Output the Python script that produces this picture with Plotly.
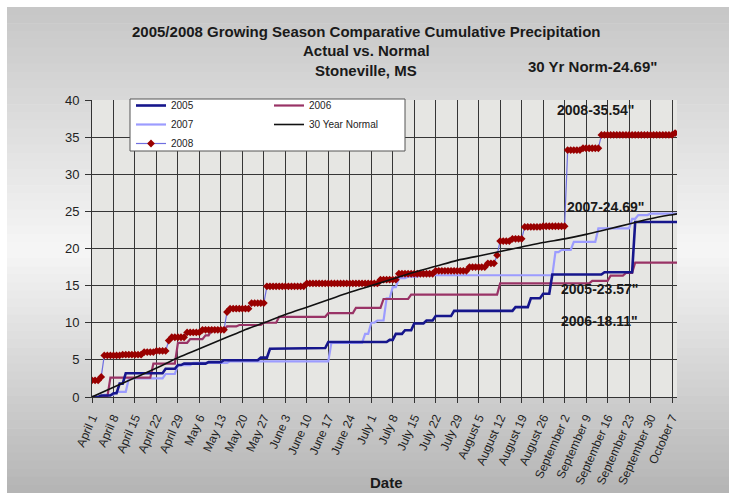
import pandas as pd
import plotly.graph_objects as go

# ---------------- data ----------------
season_start = "2008-04-01"
season_end = "2008-10-09"

# daily rain events (MM-DD, inches) – cumulative sums reproduce the curves
rain_2005_dates = ["04-04", "04-08", "04-10", "04-12", "04-25", "04-29", "05-01", "05-09",
                   "05-14", "05-26", "05-29", "06-03", "06-17", "07-07", "07-09", "07-12",
                   "07-15", "07-19", "07-22", "07-28", "08-17", "08-22", "08-26", "08-29",
                   "09-15", "09-25"]
rain_2005_inches = [0.2, 0.3, 1.3, 1.4, 0.6, 0.5, 0.2, 0.2,
                    0.25, 0.35, 1.2, 0.1, 0.8, 0.3, 0.8, 0.5,
                    0.9, 0.4, 0.6, 0.7, 0.5, 1.2, 0.6, 2.6,
                    0.3, 6.77]

rain_2006_dates = ["04-07", "04-21", "04-29", "05-03", "05-08", "05-10", "05-15", "05-19",
                   "05-27", "06-01", "06-17", "06-26", "07-05", "07-14", "08-12", "09-11",
                   "09-17", "09-22", "09-25"]
rain_2006_inches = [2.6, 1.9, 2.8, 0.5, 0.5, 0.7, 0.5, 0.2,
                    0.3, 0.8, 0.5, 0.7, 1.2, 0.6, 1.5, 0.35,
                    0.7, 0.35, 1.41]

rain_2007_dates = ["04-05", "04-09", "04-13", "04-25", "04-29", "05-04", "05-16", "06-18",
                   "06-29", "07-01", "07-03", "07-06", "07-08", "07-10", "07-13", "07-17",
                   "08-30", "09-01", "09-05", "09-13", "09-24", "09-26", "09-30"]
rain_2007_inches = [0.3, 0.4, 1.8, 0.6, 1.2, 0.3, 0.2, 2.5,
                    1.2, 1.5, 0.3, 3.0, 1.5, 1.2, 0.2, 0.2,
                    3.1, 0.3, 1.1, 1.8, 1.3, 0.5, 0.19]

rain_2008_dates = ["04-01", "04-04", "04-05", "04-11", "04-18", "04-22", "04-26", "04-27",
                   "05-02", "05-07", "05-15", "05-16", "05-23", "05-28", "06-10", "07-04",
                   "07-10", "07-22", "08-02", "08-08", "08-11", "08-12", "08-16", "08-20",
                   "08-26", "09-03", "09-08", "09-14", "10-08"]
rain_2008_inches = [2.25, 0.45, 2.9, 0.1, 0.35, 0.15, 1.4, 0.45,
                    0.65, 0.35, 2.4, 0.45, 0.75, 2.25, 0.4, 0.5,
                    0.8, 0.4, 0.5, 0.5, 1.1, 1.9, 0.3, 1.6,
                    0.1, 10.25, 0.25, 1.8, 0.24]

normal_dates = ["04-01", "04-08", "04-15", "04-22", "04-29", "05-06", "05-13", "05-20",
                "05-27", "06-03", "06-10", "06-17", "06-24", "07-01", "07-08", "07-15",
                "07-22", "07-29", "08-05", "08-12", "08-19", "08-26", "09-02", "09-09",
                "09-16", "09-23", "09-30", "10-07", "10-09"]
normal_cum = [0.0, 1.3, 2.6, 3.9, 5.3, 6.5, 7.7, 8.9,
              10.0, 11.1, 12.1, 13.1, 14.1, 15.0, 15.9, 16.8,
              17.6, 18.4, 19.0, 19.6, 20.2, 20.8, 21.3, 21.9,
              22.6, 23.3, 24.0, 24.55, 24.69]

tick_labels = ["April 1", "April 8", "April 15", "April 22", "April 29", "May 6", "May 13",
               "May 20", "May 27", "June 3", "June 10", "June 17", "June 24", "July 1",
               "July 8", "July 15", "July 22", "July 29", "August 5", "August 12",
               "August 19", "August 26", "September 2", "September 9", "September 16",
               "September 23", "September 30", "October 7"]

# ---------------- build cumulative series ----------------
days = pd.date_range(season_start, season_end, freq="D")


def cumulative(dates, inches):
    s = pd.Series(0.0, index=days)
    for d, v in zip(dates, inches):
        s[pd.Timestamp("2008-" + d)] += v
    return s.cumsum().round(3)


c2005 = cumulative(rain_2005_dates, rain_2005_inches)
c2006 = cumulative(rain_2006_dates, rain_2006_inches)
c2007 = cumulative(rain_2007_dates, rain_2007_inches)
c2008 = cumulative(rain_2008_dates, rain_2008_inches)
normal_x = [pd.Timestamp("2008-" + d) for d in normal_dates]
tick_vals = pd.date_range(season_start, periods=len(tick_labels), freq="7D")

# ---------------- layout geometry (pixels) ----------------
W, H = 729, 493
L, R, T, B = 92, 52, 100, 96
PW, PH = W - L - R, H - T - B


def px(x):
    return (x - L) / PW


def py(y):
    return (H - B - y) / PH


FONT = "Liberation Sans, Arial, sans-serif"

fig = go.Figure()

fig.add_trace(go.Scatter(x=days, y=c2007, mode="lines", name="2007", legend="legend",
                         legendrank=2, line=dict(color="#9c9cff", width=2.2)))
fig.add_trace(go.Scatter(x=days, y=c2006, mode="lines", name="2006", legend="legend2",
                         legendrank=1, line=dict(color="#993366", width=2.2)))
fig.add_trace(go.Scatter(x=days, y=c2008, mode="lines+markers", name="2008", legend="legend",
                         legendrank=3,
                         line=dict(color="#6f6fe0", width=1.2),
                         marker=dict(symbol="diamond", size=6, color="#990000",
                                     line=dict(width=0))))
fig.add_trace(go.Scatter(x=days, y=c2005, mode="lines", name="2005", legend="legend",
                         legendrank=1, line=dict(color="#16168c", width=2.6)))
fig.add_trace(go.Scatter(x=normal_x, y=normal_cum, mode="lines", name="30 Year Normal",
                         legend="legend2", legendrank=2,
                         line=dict(color="#111111", width=1.6, shape="spline")))

# ---------------- background gradient ----------------
shapes = []
stops = [(0.0, 198), (0.5, 246), (1.0, 180)]
n = 60
top_px, left_px = 7, 7
for i in range(n):
    f = (i + 0.5) / n
    for (a, ca), (b, cb) in zip(stops[:-1], stops[1:]):
        if a <= f <= b:
            g = int(round(ca + (cb - ca) * (f - a) / (b - a)))
    y0 = top_px + (H - top_px) * i / n
    y1 = top_px + (H - top_px) * (i + 1) / n + 0.6
    shapes.append(dict(type="rect", xref="paper", yref="paper", layer="below",
                       x0=px(left_px), x1=px(W + 1), y0=py(y1), y1=py(y0),
                       line=dict(width=0), fillcolor=f"rgb({g},{g},{g})"))
shapes.append(dict(type="rect", xref="paper", yref="paper", layer="below",
                   x0=0, x1=1, y0=0, y1=1, line=dict(width=0), fillcolor="#e6e6e3"))
# legend frame (white box holding both legend columns)
shapes.append(dict(type="rect", xref="paper", yref="paper", layer="above",
                   x0=px(130), x1=px(405), y0=py(151), y1=py(99),
                   line=dict(width=1, color="#555555"), fillcolor="white"))

# ---------------- annotations ----------------
ann = []


def add_text(text, x, y, size=13):
    ann.append(dict(text=f"<b>{text}</b>", x=px(x), y=py(y), xref="paper", yref="paper",
                    showarrow=False, xanchor="center", yanchor="middle",
                    font=dict(family=FONT, size=size, color="#1a1a1a")))


add_text("2005/2008 Growing Season Comparative Cumulative Precipitation", 366, 32, 15)
add_text("Actual vs. Normal", 366, 51, 15)
add_text("Stoneville, MS", 366, 70, 15)
add_text("30 Yr Norm-24.69\"", 592, 66, 15)
add_text("2008-35.54\"", 595, 110, 14)
add_text("2007-24.69\"", 605, 207, 14)
add_text("2005-23.57\"", 599, 289, 14)
add_text("2006-18.11\"", 599, 321, 14)
add_text("Date", 386, 482, 15)

legend_style = dict(orientation="v", yanchor="top", xanchor="left",
                    bgcolor="rgba(0,0,0,0)", borderwidth=0, itemwidth=30,
                    font=dict(family=FONT, size=10, color="#222222"),
                    traceorder="normal", tracegroupgap=0)

fig.update_layout(
    width=W, height=H,
    margin=dict(l=L, r=R, t=T, b=B, autoexpand=False),
    paper_bgcolor="white",
    plot_bgcolor="rgba(0,0,0,0)",
    shapes=shapes,
    annotations=ann,
    showlegend=True,
    legend=dict(x=px(131), y=py(91), **legend_style),
    legend2=dict(x=px(269), y=py(91), **legend_style),
    xaxis=dict(type="date", range=["2008-04-01", "2008-10-08T15:00"],
               tickmode="array", tickvals=tick_vals, ticktext=tick_labels,
               tickangle=-66, ticks="outside", ticklen=5, tickcolor="#333333",
               ticklabelstandoff=3,
               showgrid=True, gridcolor="#363636", gridwidth=1.2,
               showline=True, linecolor="#333333", linewidth=1, zeroline=False,
               tickfont=dict(family=FONT, size=12, color="#222222")),
    yaxis=dict(range=[0, 40], dtick=5, ticks="outside", ticklen=6, tickcolor="#333333",
               ticklabelstandoff=3,
               showgrid=True, gridcolor="#363636", gridwidth=1.2,
               showline=True, linecolor="#333333", linewidth=1, zeroline=False,
               tickfont=dict(family=FONT, size=13, color="#222222")),
)

fig.write_html("out.html", config={"displayModeBar": False},
               post_script="document.body.style.margin='0';document.body.style.padding='0';")
